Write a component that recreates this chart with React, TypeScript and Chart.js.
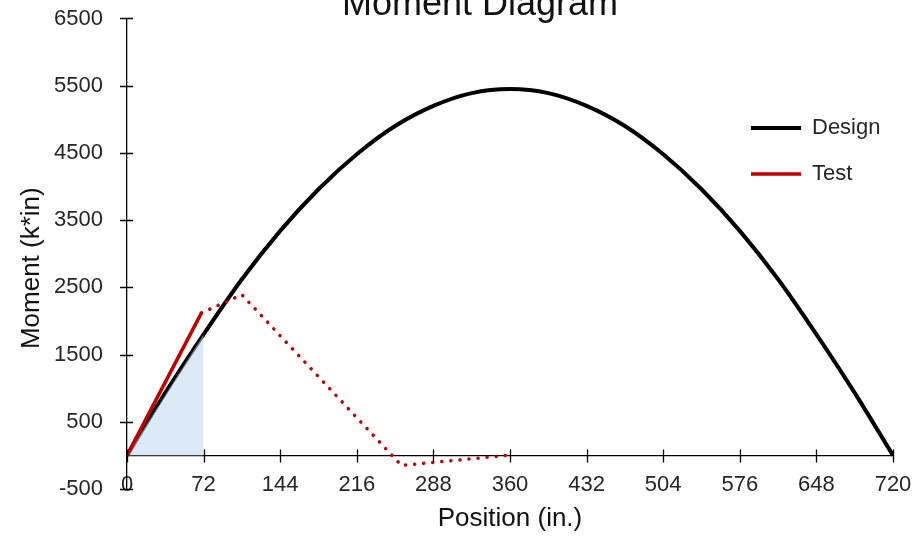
import React, { useEffect, useRef } from 'react';
import { Chart, registerables } from 'chart.js';

Chart.register(...registerables);

const FONT = "'Liberation Sans', Arial, sans-serif";

// Design moment curve
const positions = [0, 36, 72, 108, 144, 180, 216, 252, 288, 324, 360, 396, 432, 468, 504, 540, 576, 612, 648, 684, 720];
const designMoment = [0, 930, 1800, 2620, 3340, 3960, 4480, 4900, 5200, 5390, 5450, 5390, 5200, 4900, 4480, 3960, 3340, 2620, 1800, 930, 0];

// Test moment points
const testPositions = [0, 70, 108, 258, 357];
const testMoment = [0, 2120, 2390, -150, 0];

// Shaded region under the design curve
const shadedPositions = [0, 72];
const shadedMoment = [0, 1800];

// Axis ticks
const xTickValues = [0, 72, 144, 216, 288, 360, 432, 504, 576, 648, 720];
const yTickValues = [-500, 500, 1500, 2500, 3500, 4500, 5500, 6500];

const seriesNames = ['Design', 'Test'];

const crossTicks = {
  id: 'crossTicks',
  afterDatasetsDraw(chart: any) {
    const { ctx, scales } = chart;
    const x = scales.x;
    const y = scales.y;
    const y0 = y.getPixelForValue(0);
    ctx.save();
    ctx.strokeStyle = '#000';
    ctx.lineWidth = 1.3;
    ctx.beginPath();
    x.ticks.forEach((t: any) => {
      const px = Math.round(x.getPixelForValue(t.value)) + 0.5;
      ctx.moveTo(px, y0 - 6);
      ctx.lineTo(px, y0 + 7);
    });
    y.ticks.forEach((t: any) => {
      const py = Math.round(y.getPixelForValue(t.value)) + 0.5;
      ctx.moveTo(y.right - 7, py);
      ctx.lineTo(y.right + 6, py);
    });
    ctx.stroke();
    ctx.restore();
  },
};

const boxPlacer = {
  id: 'boxPlacer',
  afterLayout(chart: any) {
    const lg = chart.legend;
    if (lg) {
      lg.left = 727;
      lg.top = 93;
      lg.width = 190;
      lg.height = 200;
      lg.right = lg.left + lg.width;
      lg.bottom = lg.top + lg.height;
    }
    const tb = chart.titleBlock;
    if (tb) {
      tb.left = 42;
      tb.right = 918;
      tb.width = tb.right - tb.left;
    }
  },
};

export default function App() {
  const ref = useRef<HTMLCanvasElement | null>(null);

  useEffect(() => {
    if (!ref.current) return;
    const chart = new Chart(ref.current, {
      type: 'line',
      data: {
        datasets: [
          {
            label: seriesNames[0],
            data: positions.map((p, i) => ({ x: p, y: designMoment[i] })),
            borderColor: '#000000',
            backgroundColor: '#000000',
            borderWidth: 4,
            pointRadius: 0,
            cubicInterpolationMode: 'monotone',
            fill: false,
            order: 3,
          },
          {
            label: seriesNames[1],
            data: testPositions.map((p, i) => ({ x: p, y: testMoment[i] })),
            borderColor: '#C00000',
            backgroundColor: '#C00000',
            borderWidth: 3.5,
            borderCapStyle: 'butt',
            pointRadius: 0,
            tension: 0,
            fill: false,
            order: 1,
            segment: {
              borderDash: (c: any) => (c.p0DataIndex >= 1 ? [0.1, 9] : undefined),
              borderCapStyle: (c: any) => (c.p0DataIndex >= 1 ? 'round' : undefined),
            },
          },
          {
            label: 'shaded',
            data: shadedPositions.map((p, i) => ({ x: p, y: shadedMoment[i] })),
            borderWidth: 0,
            borderColor: 'rgba(0,0,0,0)',
            backgroundColor: 'rgba(189,215,238,0.55)',
            pointRadius: 0,
            tension: 0,
            fill: 'origin',
            order: 2,
          },
        ],
      },
      options: {
        responsive: true,
        maintainAspectRatio: false,
        animation: false,
        layout: { padding: { left: 0, right: 25, top: 0, bottom: 47 } },
        scales: {
          x: {
            type: 'linear',
            axis: 'x',
            position: { y: 0 },
            min: 0,
            max: 720,
            afterBuildTicks: (s: any) => {
              s.ticks = xTickValues.map((v) => ({ value: v }));
            },
            grid: { display: false, drawTicks: true, tickLength: 14 },
            border: { display: true, color: '#000', width: 1.3 },
            ticks: {
              padding: 2,
              color: '#262626',
              font: { size: 22, family: FONT },
              maxRotation: 0,
              minRotation: 0,
              autoSkip: false,
              callback: (v: any) => String(v),
            },
            title: {
              display: true,
              text: 'Position (in.)',
              color: '#111',
              font: { size: 26, family: FONT },
              padding: { top: 3, bottom: 0 },
            },
          },
          y: {
            type: 'linear',
            position: 'left',
            min: -500,
            max: 6500,
            afterBuildTicks: (s: any) => {
              s.ticks = yTickValues.map((v) => ({ value: v }));
            },
            afterFit: (s: any) => {
              s.width = 127;
            },
            grid: { display: false, drawTicks: true, tickLength: 19 },
            border: { display: true, color: '#000', width: 1.3 },
            ticks: {
              padding: 5,
              color: '#262626',
              font: { size: 22, family: FONT },
              callback: (v: any) => String(v),
            },
            title: {
              display: true,
              text: 'Moment (k*in)    ',
              color: '#111',
              font: { size: 26, family: FONT },
              padding: { top: 16, bottom: 0 },
            },
          },
        },
        plugins: {
          title: {
            display: true,
            text: 'Moment Diagram',
            color: '#111',
            font: { size: 36, family: FONT, weight: 'normal', lineHeight: 0.28 },
            padding: { top: 0, bottom: 8.4 },
          },
          legend: {
            display: true,
            position: 'chartArea',
            align: 'start',
            labels: {
              boxWidth: 50,
              boxHeight: 0,
              padding: 24,
              color: '#262626',
              font: { size: 22, family: FONT },
              filter: (item: any) => item.datasetIndex < 2,
              sort: (a: any, b: any) => a.datasetIndex - b.datasetIndex,
            },
          },
          tooltip: { enabled: false },
        },
      },
      plugins: [crossTicks, boxPlacer],
    } as any);
    return () => chart.destroy();
  }, []);

  return (
    <div style={{ position: 'absolute', left: 0, top: 0, width: 918, height: 536 }}>
      <canvas ref={ref} />
    </div>
  );
}
